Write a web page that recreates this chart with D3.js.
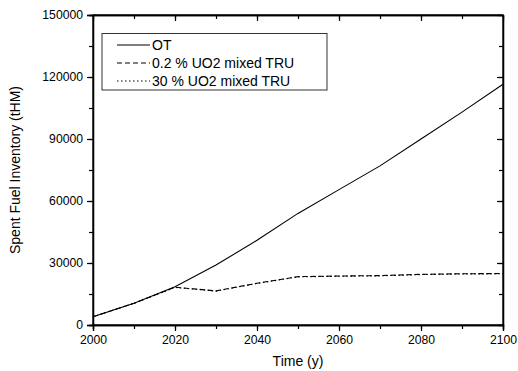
<!DOCTYPE html>
<html>
<head>
<meta charset="utf-8">
<script src="https://cdn.jsdelivr.net/npm/d3@7"></script>
<style>
  body { margin: 0; background: #fff; }
  text { font-family: "Liberation Sans", Arial, sans-serif; fill: #000; }
</style>
</head>
<body>
<div id="chart"></div>
<script>
var w = 518,
    h = 371;

var years = [2000, 2010, 2020, 2030, 2040, 2050, 2060, 2070, 2080, 2090, 2100];
var ot = [4000, 10500, 18500, 29000, 41000, 54000, 65500, 77000, 90000, 103000, 116500];
var low = [4000, 10500, 18300, 16500, 20200, 23400, 23700, 23900, 24500, 24800, 24900];
var high = [4000, 10500, 18200, 16400, 20100, 23300, 23600, 23800, 24400, 24700, 24800];
var xTicks = [2000, 2020, 2040, 2060, 2080, 2100];
var yTicks = [0, 30000, 60000, 90000, 120000, 150000];
var names = ["OT", "0.2 % UO2 mixed TRU", "30 % UO2 mixed TRU"];
var dashes = ["none", "5,3", "1.5,2.5"];

var m = {left: 93, top: 15, right: 15, bottom: 46};

var svg = d3.select("#chart").append("svg")
  .attr("width", w)
  .attr("height", h);

var x = d3.scaleLinear().domain([2000, 2100]).range([m.left, w - m.right]);
var y = d3.scaleLinear().domain([0, 150000]).range([h - m.bottom, m.top]);

var minorX = d3.range(2000, 2101, 10),
    minorY = d3.range(0, 150001, 15000);

// bottom and left: outward ticks with labels
svg.append("g")
  .attr("transform", "translate(0," + y(0) + ")")
  .call(d3.axisBottom(x).tickValues(minorX).tickSize(4).tickFormat(""));
svg.append("g")
  .attr("transform", "translate(0," + y(0) + ")")
  .call(d3.axisBottom(x).tickValues(xTicks).tickSize(6).tickPadding(4).tickFormat(d3.format("d")));
svg.append("g")
  .attr("transform", "translate(" + x(2000) + ",0)")
  .call(d3.axisLeft(y).tickValues(minorY).tickSize(4).tickFormat(""));
svg.append("g")
  .attr("transform", "translate(" + x(2000) + ",0)")
  .call(d3.axisLeft(y).tickValues(yTicks).tickSize(6).tickPadding(4).tickFormat(d3.format("d")));

// top and right: inward ticks, no labels
svg.append("g")
  .attr("transform", "translate(0," + y(150000) + ")")
  .call(d3.axisBottom(x).tickValues(minorX).tickSizeInner(4).tickSizeOuter(0).tickFormat(""));
svg.append("g")
  .attr("transform", "translate(0," + y(150000) + ")")
  .call(d3.axisBottom(x).tickValues(xTicks).tickSizeInner(6).tickSizeOuter(0).tickFormat(""));
svg.append("g")
  .attr("transform", "translate(" + x(2100) + ",0)")
  .call(d3.axisLeft(y).tickValues(minorY).tickSizeOuter(0).tickFormat(""))
  .selectAll("line").attr("x2", -4);
svg.append("g")
  .attr("transform", "translate(" + x(2100) + ",0)")
  .call(d3.axisLeft(y).tickValues(yTicks).tickSizeOuter(0).tickFormat(""))
  .selectAll("line").attr("x2", -6);

svg.selectAll(".domain").attr("stroke", "#000").attr("stroke-width", 1.3);
svg.selectAll(".tick line").attr("stroke", "#000").attr("stroke-width", 1.2);
svg.selectAll(".tick text").style("font-size", "12.2px").attr("fill", "#000");

svg.append("rect")
  .attr("x", x(2000)).attr("y", y(150000))
  .attr("width", x(2100) - x(2000)).attr("height", y(0) - y(150000))
  .attr("fill", "none").attr("stroke", "#000").attr("stroke-width", 1.3);

var line = d3.line()
  .x(function(d, i) { return x(years[i]); })
  .y(function(d) { return y(d); });

[ot, low, high].forEach(function(s, i) {
  svg.append("path")
    .attr("d", line(s))
    .attr("fill", "none")
    .attr("stroke", "#000")
    .attr("stroke-width", 1.1)
    .attr("stroke-dasharray", dashes[i]);
});

// legend
var lg = svg.append("g");
lg.append("rect")
  .attr("x", 102).attr("y", 33.5)
  .attr("width", 225).attr("height", 56.5)
  .attr("fill", "#fff").attr("stroke", "#333").attr("stroke-width", 1);
names.forEach(function(n, i) {
  var ly = 45 + i * 18;
  lg.append("line")
    .attr("x1", 117).attr("x2", 150)
    .attr("y1", ly).attr("y2", ly)
    .attr("stroke", "#000").attr("stroke-width", 1.1)
    .attr("stroke-dasharray", dashes[i]);
  lg.append("text")
    .attr("x", 152).attr("y", ly + 4.8)
    .style("font-size", "14px")
    .text(n);
});

svg.append("text")
  .attr("x", x(2050)).attr("y", 366)
  .attr("text-anchor", "middle")
  .style("font-size", "14px")
  .text("Time (y)");

svg.append("text")
  .attr("transform", "translate(20," + ((y(0) + y(150000)) / 2) + ") rotate(-90)")
  .attr("text-anchor", "middle")
  .style("font-size", "14px")
  .text("Spent Fuel Inventory (tHM)");
</script>
</body>
</html>
